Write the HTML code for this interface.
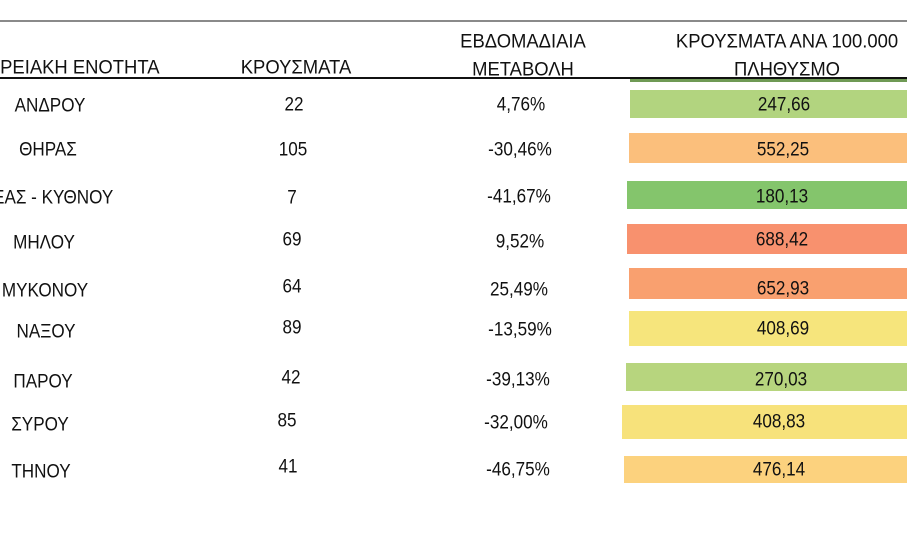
<!DOCTYPE html>
<html><head><meta charset="utf-8"><style>
body{margin:0;width:907px;height:536px;background:#fff;position:relative;overflow:hidden;font-family:"Liberation Sans Narrow","Liberation Sans",sans-serif;color:#111}
.t{position:absolute;white-space:nowrap;font-size:19px;line-height:19px;transform:translate(-50%,-50%) scaleX(.9)}
.r{position:absolute;white-space:nowrap;font-size:19px;line-height:19px;transform-origin:right center;transform:translateY(-50%) scaleX(.9)}
.h{font-size:19px;transform:translate(-50%,-50%) scaleX(.97)}
.r.h{transform:translateY(-50%) scaleX(.97)}
.bar{position:absolute;right:0}
.line{position:absolute;left:0;right:0}
</style></head><body>
<div class="line" style="top:20px;height:2px;background:#8a8a8a"></div>
<div class="line" style="top:77px;height:2px;background:#111"></div>
<div class="bar" style="left:630px;top:79px;height:3px;background:#6f9a55"></div>

<div class="r h" style="right:747px;top:68px">ΠΕΡΙΦΕΡΕΙΑΚΗ ΕΝΟΤΗΤΑ</div>
<div class="t h" style="left:296px;top:68px">ΚΡΟΥΣΜΑΤΑ</div>
<div class="t h" style="left:523px;top:42px">ΕΒΔΟΜΑΔΙΑΙΑ</div>
<div class="t h" style="left:523px;top:70px">ΜΕΤΑΒΟΛΗ</div>
<div class="t h" style="left:787px;top:42px">ΚΡΟΥΣΜΑΤΑ ΑΝΑ 100.000</div>
<div class="t h" style="left:787px;top:70px">ΠΛΗΘΥΣΜΟ</div>

<div class="bar" style="left:630px;top:90px;height:28px;background:#b2d47f"></div>
<div class="bar" style="left:629px;top:133px;height:30px;background:#fbbf7c"></div>
<div class="bar" style="left:627px;top:181px;height:28px;background:#84c56c"></div>
<div class="bar" style="left:627px;top:224px;height:30px;background:#f8916e"></div>
<div class="bar" style="left:629px;top:268px;height:31px;background:#f9a06f"></div>
<div class="bar" style="left:629px;top:311px;height:35px;background:#f6e57c"></div>
<div class="bar" style="left:626px;top:363px;height:28px;background:#b7d57e"></div>
<div class="bar" style="left:622px;top:405px;height:34px;background:#f7e27b"></div>
<div class="bar" style="left:624px;top:456px;height:27px;background:#fcd27e"></div>

<div class="t" style="left:50px;top:106px">ΑΝΔΡΟΥ</div>
<div class="t" style="left:48px;top:150px">ΘΗΡΑΣ</div>
<div class="r" style="right:794px;top:198px">ΚΕΑΣ - ΚΥΘΝΟΥ</div>
<div class="t" style="left:44px;top:243px">ΜΗΛΟΥ</div>
<div class="t" style="left:45px;top:291px">ΜΥΚΟΝΟΥ</div>
<div class="t" style="left:46px;top:332px">ΝΑΞΟΥ</div>
<div class="t" style="left:43px;top:382px">ΠΑΡΟΥ</div>
<div class="t" style="left:40px;top:425px">ΣΥΡΟΥ</div>
<div class="t" style="left:41px;top:472px">ΤΗΝΟΥ</div>

<div class="t" style="left:294px;top:105px">22</div>
<div class="t" style="left:293px;top:150px">105</div>
<div class="t" style="left:292px;top:198px">7</div>
<div class="t" style="left:292px;top:240px">69</div>
<div class="t" style="left:292px;top:287px">64</div>
<div class="t" style="left:292px;top:328px">89</div>
<div class="t" style="left:291px;top:378px">42</div>
<div class="t" style="left:287px;top:421px">85</div>
<div class="t" style="left:288px;top:467px">41</div>

<div class="t" style="left:521px;top:105px">4,76%</div>
<div class="t" style="left:520px;top:150px">-30,46%</div>
<div class="t" style="left:519px;top:197px">-41,67%</div>
<div class="t" style="left:520px;top:242px">9,52%</div>
<div class="t" style="left:519px;top:290px">25,49%</div>
<div class="t" style="left:520px;top:330px">-13,59%</div>
<div class="t" style="left:518px;top:380px">-39,13%</div>
<div class="t" style="left:516px;top:423px">-32,00%</div>
<div class="t" style="left:518px;top:470px">-46,75%</div>

<div class="t" style="left:784px;top:105px">247,66</div>
<div class="t" style="left:783px;top:150px">552,25</div>
<div class="t" style="left:782px;top:197px">180,13</div>
<div class="t" style="left:782px;top:240px">688,42</div>
<div class="t" style="left:783px;top:289px">652,93</div>
<div class="t" style="left:783px;top:329px">408,69</div>
<div class="t" style="left:781px;top:380px">270,03</div>
<div class="t" style="left:779px;top:422px">408,83</div>
<div class="t" style="left:779px;top:470px">476,14</div>
</body></html>
